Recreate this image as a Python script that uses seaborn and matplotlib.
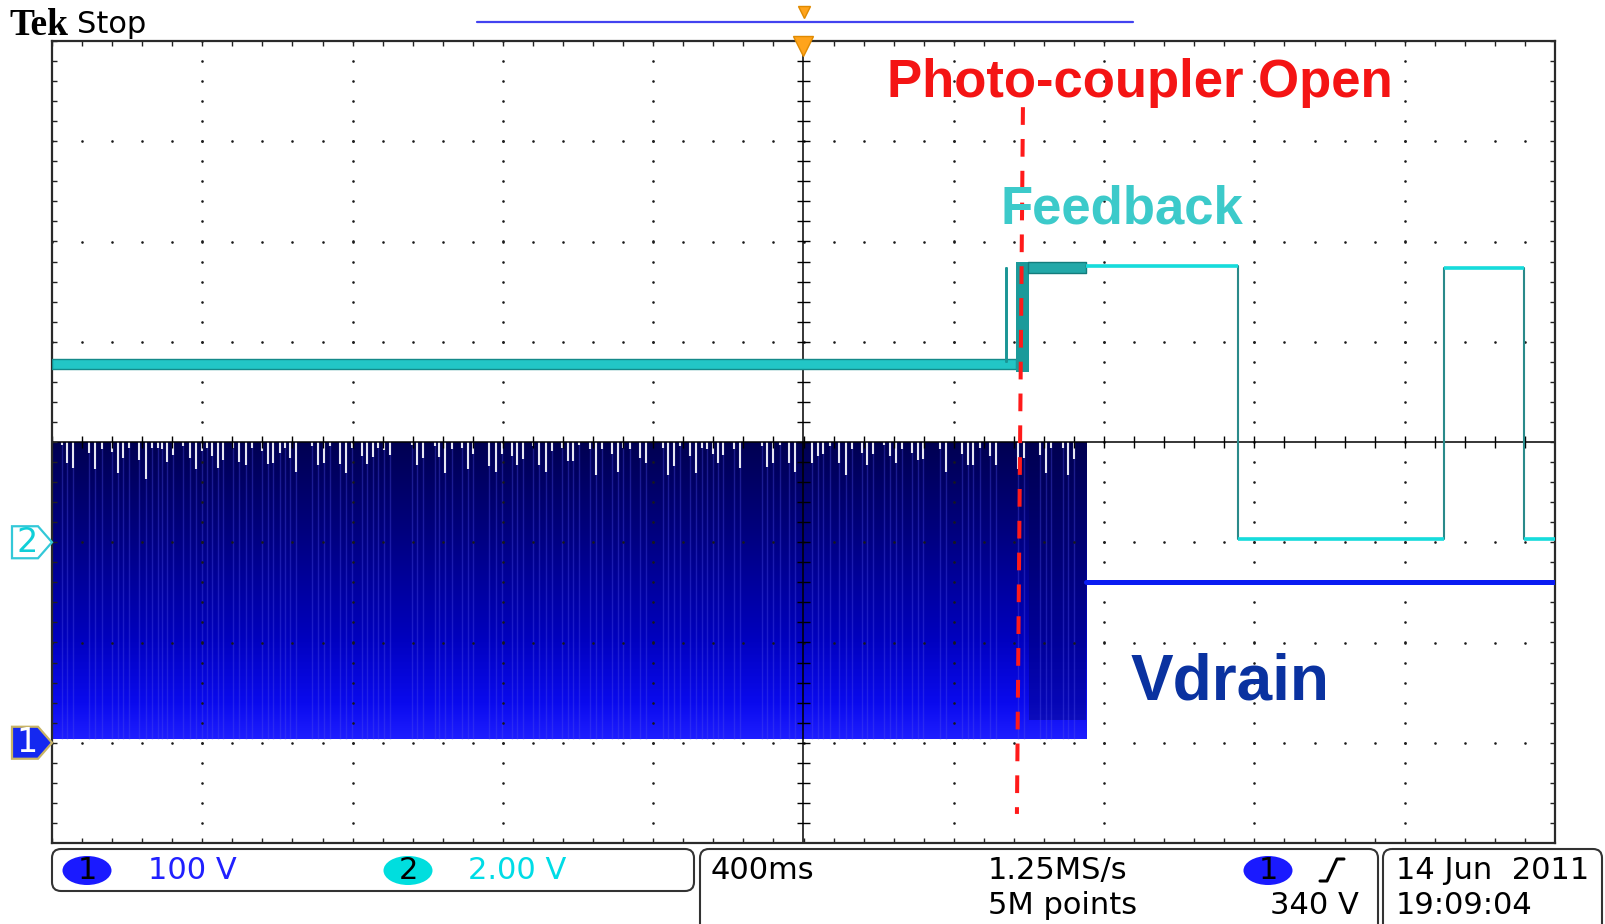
import numpy as np
import matplotlib
matplotlib.use("Agg")
import matplotlib.pyplot as plt
import matplotlib.patches as mpatches
from matplotlib.colors import LinearSegmentedColormap
from matplotlib.transforms import Affine2D
from matplotlib.lines import Line2D
import seaborn as sns

# scope settings (400 ms/div, ch1 100 V/div, ch2 2 V/div)
sec_per_div = 0.4
ch1_v_per_div = 100.0
ch2_v_per_div = 2.0
ch1_ground_div = -3.0
ch2_ground_div = -1.0

# channel 1 (Vdrain): switching burst, then flat DC level
burst_t = [-2.0, 0.753]
burst_top_v = 300.0
burst_bottom_v = 4.0
late_burst_t = [0.600, 0.753]
late_burst_bottom_v = 23.0
vdrain_dc_t = [0.753, 2.0]
vdrain_dc_v = [160.0, 160.0]

# dropouts at the top of the burst envelope: time (s), depth (V)
gap_t = [-1.974, -1.959, -1.943, -1.901, -1.885, -1.868, -1.841, -1.825, -1.810, -1.794,
         -1.768, -1.751, -1.735, -1.719, -1.708, -1.693, -1.677, -1.651, -1.633, -1.618,
         -1.602, -1.588, -1.575, -1.559, -1.544, -1.517, -1.502, -1.485, -1.469, -1.440,
         -1.424, -1.411, -1.393, -1.380, -1.367, -1.351, -1.307, -1.291, -1.276, -1.260,
         -1.234, -1.218, -1.202, -1.176, -1.161, -1.145, -1.132, -1.116, -1.100,
         -1.043, -1.028, -1.012, -0.981, -0.969, -0.953, -0.936, -0.910, -0.894, -0.879,
         -0.836, -0.819, -0.803, -0.777, -0.762, -0.746, -0.719, -0.703, -0.686, -0.670,
         -0.644, -0.628, -0.613, -0.597, -0.568, -0.553, -0.537, -0.509, -0.493, -0.480,
         -0.462, -0.435, -0.419, -0.375, -0.360, -0.345, -0.329, -0.302, -0.286, -0.271,
         -0.258, -0.242, -0.227, -0.213, -0.185, -0.169,
         -0.111, -0.096, -0.080, -0.063, -0.038, -0.022, 0.022, 0.038, 0.053, 0.071,
         0.095, 0.112, 0.128, 0.155, 0.170, 0.186, 0.213, 0.230, 0.245, 0.261,
         0.288, 0.304, 0.319, 0.363, 0.378, 0.423, 0.439, 0.452, 0.470, 0.496,
         0.512, 0.571, 0.587, 0.629, 0.645, 0.660, 0.690, 0.705, 0.720]
gap_depth = [3, 21, 26, 11, 27, 7, 10, 31, 16, 6,
             18, 37, 6, 6, 7, 20, 13, 4, 16, 27,
             9, 6, 14, 26, 18, 6, 20, 23, 6, 9,
             22, 21, 11, 6, 16, 30, 4, 23, 21, 4,
             22, 31, 6, 14, 22, 15, 6, 8, 13,
             3, 23, 16, 4, 15, 31, 7, 6, 27, 12,
             24, 30, 12, 14, 23, 17, 4, 23, 30, 9,
             6, 19, 19, 3, 7, 33, 7, 12, 30, 6,
             7, 16, 21, 6, 33, 24, 4, 14, 31, 6,
             7, 12, 21, 13, 7, 26,
             4, 25, 21, 3, 21, 30, 21, 14, 12, 4,
             21, 33, 7, 11, 23, 12, 3, 14, 21, 7,
             11, 18, 17, 7, 30, 12, 23, 23, 6, 14,
             23, 27, 16, 13, 31, 6, 6, 33, 17]

# channel 2 (Feedback)
fb_low_t = [-2.0, 0.565]
fb_low_v = [3.45, 3.66]
fb_spike_t = [0.539, 0.539, 0.542, 0.542]
fb_spike_v = [3.6, 5.48, 5.48, 3.6]
fb_burst_t = [0.565, 0.600]
fb_burst_v = [3.39, 5.59]
fb_noisy_t = [0.598, 0.753]
fb_noisy_v = [5.38, 5.59]
fb_t = [0.753, 1.157, 1.157, 1.705, 1.705, 1.918, 1.918, 2.0]
fb_v = [5.51, 5.51, 0.06, 0.06, 5.48, 5.48, 0.06, 0.06]

# red "photo-coupler open" marker (time s, screen divisions)
open_line_t = [0.584, 0.568]
open_line_div = [3.34, -3.71]


def ch1(v):
    return np.asarray(v) / ch1_v_per_div + ch1_ground_div


def ch2(v):
    return np.asarray(v) / ch2_v_per_div + ch2_ground_div


sns.set_theme(style="white")
plt.rcParams['font.family'] = ['DejaVu Sans']

W, H = 1606, 924
fig = plt.figure(figsize=(W / 100, H / 100), dpi=100)
fig.patch.set_facecolor('white')
ax_l, ax_r, ax_t, ax_b = 52, 1555, 41, 843
ax = fig.add_axes([ax_l / W, 1 - ax_b / H, (ax_r - ax_l) / W, (ax_b - ax_t) / H])
ax.set_facecolor('white')

# pixel transform (origin top-left) for the screen furniture
pix = Affine2D().scale(1, -1).translate(0, H)

t0, t1 = -5 * sec_per_div, 5 * sec_per_div

# --- Vdrain burst with gradient fill
blues = LinearSegmentedColormap.from_list(
    'tek_blue', [(0.0, '#000052'), (0.3, '#00007e'), (0.65, '#0000bc'),
                 (0.88, '#0a0aee'), (1.0, '#1e1eff')])
grad = np.linspace(0, 1, 256).reshape(-1, 1)
ax.imshow(grad, cmap=blues, aspect='auto', interpolation='bilinear',
          extent=[burst_t[0], burst_t[1], ch1(burst_bottom_v), ch1(burst_top_v)],
          origin='upper', zorder=1)
ax.fill_between(late_burst_t, ch1(late_burst_bottom_v), ch1(burst_top_v),
                color='#000050', alpha=0.35, lw=0, zorder=1.1)
ax.vlines(gap_t, ch1(burst_bottom_v), ch1(burst_top_v), color='#5050e8',
          alpha=0.35, lw=1.0, zorder=1.2)
ax.vlines(gap_t, ch1(burst_top_v - np.asarray(gap_depth)), ch1(burst_top_v),
          color='#e6e6f2', lw=1.5, zorder=1.3)

sns.lineplot(x=vdrain_dc_t, y=ch1(vdrain_dc_v), ax=ax, color='#0a1cf2', lw=3.6,
             estimator=None, sort=False, zorder=3)

# --- graticule
minor_x = np.arange(t0, t1 + 1e-9, sec_per_div / 5)
minor_y = np.arange(-4, 4 + 1e-9, 0.2)
major_x = [t0 + k * sec_per_div for k in range(1, 10) if k != 5]
major_y = [k for k in range(-3, 4) if k != 0]
gx = np.repeat(major_x, len(minor_y))
gy = np.tile(minor_y, len(major_x))
hx = np.tile(minor_x, len(major_y))
hy = np.repeat(major_y, len(minor_x))
ax.scatter(np.concatenate([gx, hx]), np.concatenate([gy, hy]), s=3.5,
           color='#1a1a1a', linewidths=0, zorder=2)
ax.axvline(0, color='black', lw=1.1, zorder=2.1)
ax.axhline(0, color='black', lw=1.1, zorder=2.1)
ax.vlines(minor_x, -0.06, 0.06, color='black', lw=1.0, zorder=2.1)
ax.hlines(minor_y, -0.016, 0.016, color='black', lw=1.0, zorder=2.1)
ax.vlines(minor_x, 4 - 0.05, 4, color='#222222', lw=1.0, zorder=2.1)
ax.vlines(minor_x, -4, -4 + 0.05, color='#222222', lw=1.0, zorder=2.1)
ax.hlines(minor_y, t0, t0 + 0.012, color='#222222', lw=1.0, zorder=2.1)
ax.hlines(minor_y, t1 - 0.012, t1, color='#222222', lw=1.0, zorder=2.1)

# --- Feedback trace
ax.fill_between(fb_low_t, ch2(fb_low_v[0]), ch2(fb_low_v[1]),
                color='#22c6c6', ec='#148a8a', lw=1.0, zorder=4)
sns.lineplot(x=fb_spike_t, y=ch2(fb_spike_v), ax=ax, color='#1a9696', lw=1.4,
             estimator=None, sort=False, zorder=4)
ax.fill_between(fb_burst_t, ch2(fb_burst_v[0]), ch2(fb_burst_v[1]),
                color='#1b9a9a', lw=0, zorder=4)
ax.fill_between(fb_noisy_t, ch2(fb_noisy_v[0]), ch2(fb_noisy_v[1]),
                color='#22a8a8', ec='#137c7c', lw=1.0, zorder=4)
sns.lineplot(x=fb_t, y=ch2(fb_v), ax=ax, color='#2a8a8a', lw=1.5,
             estimator=None, sort=False, zorder=4)
flat = [i for i in range(len(fb_t) - 1) if fb_v[i] == fb_v[i + 1]]
ax.hlines(ch2([fb_v[i] for i in flat]), [fb_t[i] for i in flat],
          [fb_t[i + 1] for i in flat], color='#16dcdc', lw=2.6, zorder=4.1)

# --- red marker line
ax.plot(open_line_t, open_line_div, color='#ff1a1a', lw=2.9,
        dashes=(4.4, 3.5), zorder=5, clip_on=False)

# trigger position marker
ax.plot([0], [3.95], marker='v', ms=15, color='#ffa41c', mec='#e08a00',
        zorder=6, clip_on=False)

ax.set_xlim(t0, t1)
ax.set_ylim(-4, 4)
ax.set_xticks([])
ax.set_yticks([])
for sp in ax.spines.values():
    sp.set_visible(True)
    sp.set_color('#2a2a2a')
    sp.set_linewidth(1.6)

# --- annotations
ax.text(1140, 97, 'Photo-coupler Open', transform=pix, ha='center', va='baseline',
        fontsize=38, fontweight='bold', color='#f41414', family='Liberation Sans',
        zorder=7)
ax.text(1122, 223, 'Feedback', transform=pix, ha='center', va='baseline',
        fontsize=38, fontweight='bold', color='#3ccaca', family='Liberation Sans',
        zorder=7)
ax.text(1230, 699, 'Vdrain', transform=pix, ha='center', va='baseline',
        fontsize=46, fontweight='bold', color='#0a32a0', family='Liberation Sans',
        zorder=7)

# --- header
fig.text(9, 35, 'Tek', transform=pix, fontsize=27, fontweight='bold',
         family='Liberation Serif', va='baseline', color='black')
fig.text(77, 33, 'Stop', transform=pix, fontsize=22, va='baseline', color='black')
fig.add_artist(Line2D([477, 1133], [21.5, 21.5], transform=pix, color='#4242f0', lw=1.6))
fig.add_artist(Line2D([804], [12], transform=pix, marker='v', ms=8,
                      color='#ffa41c', mec='#e08a00'))


# --- channel ground markers
def ground_marker(div, face, edge, label, txt):
    yc = ax_t + (4 - div) * (ax_b - ax_t) / 8
    pts = [(12, yc - 16), (38, yc - 16), (52, yc), (38, yc + 16), (12, yc + 16)]
    fig.add_artist(mpatches.Polygon(pts, closed=True, transform=pix, fc=face,
                                    ec=edge, lw=1.6))
    fig.text(27, yc, label, transform=pix, ha='center', va='center', fontsize=24,
             color=txt)


ground_marker(ch2_ground_div, 'white', '#33c8d8', '2', '#10cfd8')
ground_marker(ch1_ground_div, '#1428f0', '#c8b464', '1', 'white')

# --- status bar
for x, y, w, h in [(52, 849, 642, 42), (700, 849, 678, 95), (1383, 849, 219, 95)]:
    fig.add_artist(mpatches.FancyBboxPatch((x, y), w, h, transform=pix,
                                           boxstyle='round,pad=0,rounding_size=9',
                                           fill=False, ec='#333333', lw=1.5))
for x, face in [(87, '#1a1aff'), (408, '#00dede'), (1268, '#1a1aff')]:
    fig.add_artist(mpatches.Ellipse((x, 870.5), 49, 29, transform=pix, fc=face, ec='none'))
status = [
    (87, 870.5, '1', 'black', 'center'), (408, 870.5, '2', 'black', 'center'),
    (1268, 870.5, '1', 'black', 'center'),
    (148, 870.5, '100 V', '#2020ff', 'left'), (468, 870.5, '2.00 V', '#00dce6', 'left'),
    (711, 870.5, '400ms', 'black', 'left'), (988, 870.5, '1.25MS/s', 'black', 'left'),
    (988, 905, '5M points', 'black', 'left'), (1270, 905, '340 V', 'black', 'left'),
    (1396, 870.5, '14 Jun  2011', 'black', 'left'), (1396, 905, '19:09:04', 'black', 'left'),
]
for x, y, s, c, ha in status:
    fig.text(x, y, s, transform=pix, ha=ha, va='center', fontsize=22, color=c)
fig.add_artist(Line2D([1320, 1327, 1337, 1344], [881, 881, 859, 859], transform=pix,
                      color='black', lw=2.2))

fig.savefig('out.png', dpi=100, facecolor='white')
